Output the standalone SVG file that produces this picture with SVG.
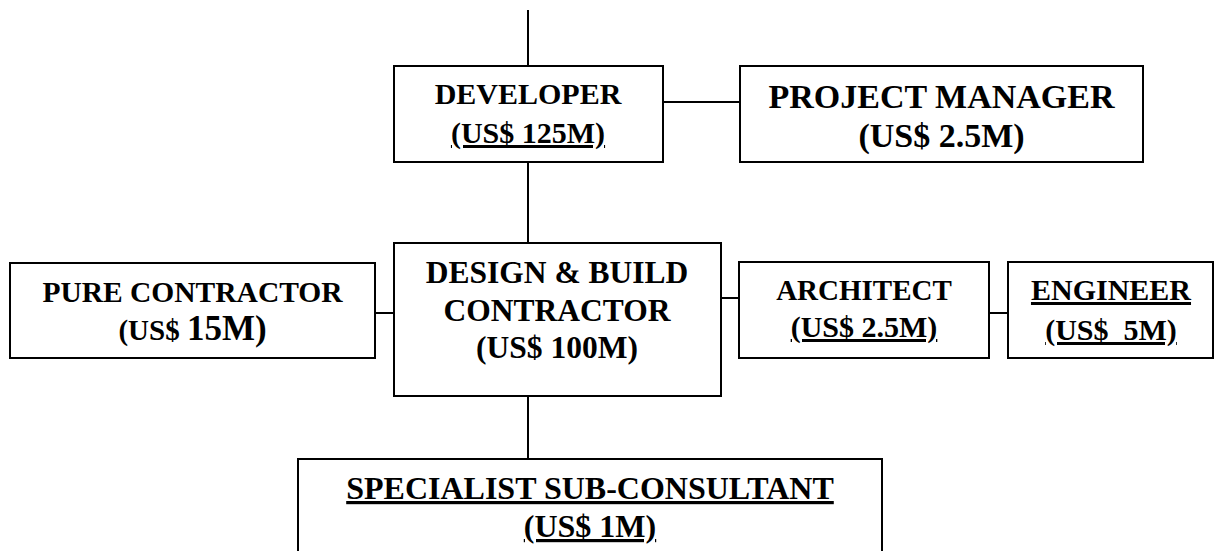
<svg xmlns="http://www.w3.org/2000/svg" width="1215" height="551" viewBox="0 0 1215 551">
<style>
.box{fill:#fff;stroke:#000;stroke-width:2}
.con{stroke:#000;stroke-width:2;fill:none}
text{font-family:"Liberation Serif","Times New Roman",serif;font-weight:bold;fill:#000;text-anchor:middle}
.u{text-decoration:underline;text-decoration-thickness:3px}
</style>
<rect width="1215" height="551" fill="#fff"/>
<g id="connectors">
<line class="con" x1="528" y1="10" x2="528" y2="66"/>
<line class="con" x1="528" y1="162" x2="528" y2="243"/>
<line class="con" x1="663" y1="102" x2="740" y2="102"/>
<line class="con" x1="375" y1="313" x2="394" y2="313"/>
<line class="con" x1="721" y1="298" x2="739" y2="298"/>
<line class="con" x1="989" y1="313" x2="1008" y2="313"/>
<line class="con" x1="528" y1="396" x2="528" y2="459"/>
</g>
<g id="developer">
<rect class="box" x="394" y="66" width="269" height="96"/>
<text x="528" y="104" font-size="30">DEVELOPER</text>
<text x="528" y="143" font-size="30" class="u">(US$ 125M)</text>
</g>
<g id="project-manager">
<rect class="box" x="740" y="66" width="403" height="96"/>
<text x="941.5" y="108" font-size="34">PROJECT MANAGER</text>
<text x="941.5" y="147" font-size="34">(US$ 2.5M)</text>
</g>
<g id="pure-contractor">
<rect class="box" x="10" y="263" width="365" height="95"/>
<text x="192.5" y="302" font-size="29.5">PURE CONTRACTOR</text>
<text x="192.5" y="340" font-size="29" xml:space="preserve">(US$ <tspan font-size="35">15M)</tspan></text>
</g>
<g id="design-build">
<rect class="box" x="394" y="243" width="327" height="153"/>
<text x="557" y="283" font-size="31.5">DESIGN &amp; BUILD</text>
<text x="557" y="321" font-size="31.5">CONTRACTOR</text>
<text x="557" y="358" font-size="31.5">(US$ 100M)</text>
</g>
<g id="architect">
<rect class="box" x="739" y="262" width="250" height="96"/>
<text x="864" y="300" font-size="29">ARCHITECT</text>
<text x="864" y="337" font-size="30" class="u">(US$ 2.5M)</text>
</g>
<g id="engineer">
<rect class="box" x="1008" y="262" width="205" height="96"/>
<text x="1111" y="300" font-size="30" class="u">ENGINEER</text>
<text x="1111" y="340" font-size="30" class="u" xml:space="preserve">(US$  5M)</text>
</g>
<g id="specialist-sub-consultant">
<rect class="box" x="298" y="459" width="584" height="110"/>
<text x="590" y="499" font-size="32" class="u">SPECIALIST SUB-CONSULTANT</text>
<text x="590" y="537" font-size="32" class="u">(US$ 1M)</text>
</g>
</svg>
